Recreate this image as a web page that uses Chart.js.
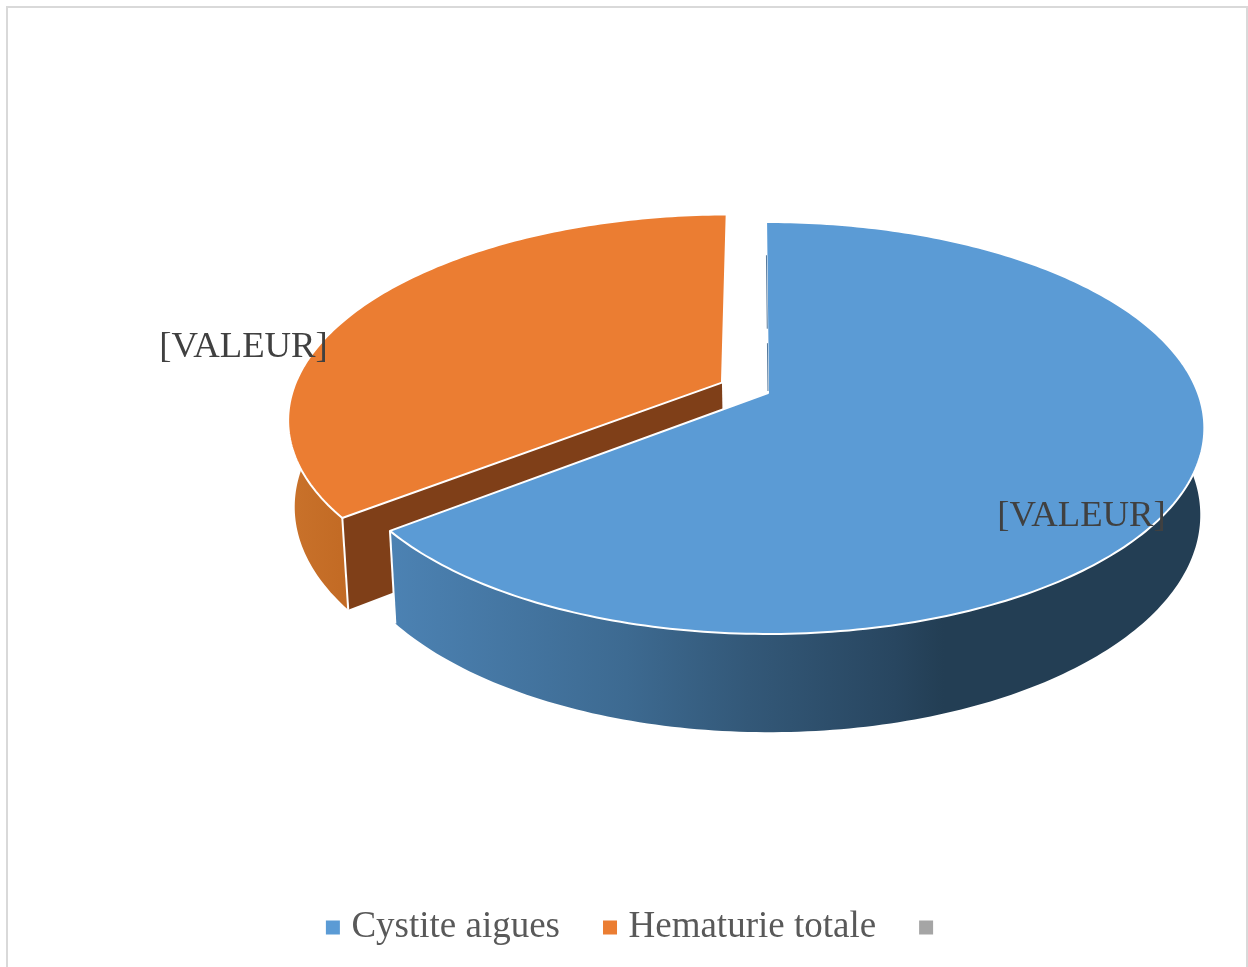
<!DOCTYPE html>
<html>
<head>
<meta charset="utf-8">
<title>Cystite / Hematurie</title>
<script src="https://cdn.jsdelivr.net/npm/chart.js@4/dist/chart.umd.min.js"></script>
<style>
    html, body { margin: 0; background: #fff; overflow: hidden; }
    canvas { display: block; }
</style>
</head>
<body>
<canvas id="chartPie" width="1248" height="967"></canvas>
<script>
// Exploded 3D pie. Chart.js works out the slices, the plugin below only
// projects each arc's angles onto a tilted disc (canvas has no perspective).

const categories = ['Cystite aigues', 'Hematurie totale', ''];
const shares = [64.5, 35.5, 0];
const valueLabels = ['[VALEUR]', '[VALEUR]', ''];

const FONT = "'Liberation Serif', serif";
const TOP_COLORS = ['#5b9bd5', '#eb7d32', '#a5a5a5'];
const CUT_COLOR = '#7f3f18';
const WALL_STOPS = [
    [[0, '#4c82b3'], [0.29, '#3d6a91'], [0.44, '#335878'], [0.62, '#284660'], [0.68, '#233e54'], [1, '#233e54']],
    [[0, '#c9722b'], [1, '#c26a24']],
    [[0, '#a5a5a5'], [1, '#a5a5a5']],
];
const LABEL_SPOTS = [[1081.5, 516], [243.5, 347]];

// tilted disc: top face and the (lower, farther) bottom face
const PERSPECTIVE = 0.17;
const TOP_FACE = { x: 768, y: 393, a: 430, b: 200 };
const BOTTOM_FACE = { x: 769, y: 478, a: 425, b: 211 };

function project(face, u, v) {
    const w = 1 - PERSPECTIVE * v;
    return [face.x + face.a * u / w, face.y + face.b * v / w];
}

function rimPoint(face, angle, shift) {
    return project(face, Math.cos(angle) + shift[0], Math.sin(angle) + shift[1]);
}

function tracePoints(ctx, points) {
    points.forEach((p, i) => (i ? ctx.lineTo(p[0], p[1]) : ctx.moveTo(p[0], p[1])));
}

function rimPoints(face, from, to, shift) {
    const steps = Math.max(2, Math.ceil(Math.abs(to - from) * 60));
    const points = [];
    for (let i = 0; i <= steps; i++) {
        points.push(rimPoint(face, from + (to - from) * i / steps, shift));
    }
    return points;
}

function drawSlice(ctx, arc, index) {
    const { startAngle, endAngle } = arc;
    if (endAngle - startAngle < 0.001) return;

    const mid = (startAngle + endAngle) / 2;
    const explode = arc.options.offset / 100;
    const shift = [Math.cos(mid) * explode, Math.sin(mid) * explode];
    const topApex = project(TOP_FACE, shift[0], shift[1]);
    const bottomApex = project(BOTTOM_FACE, shift[0], shift[1]);

    // only the front of the rim shows
    const wallFrom = Math.max(startAngle, -0.1);
    const wallTo = Math.min(endAngle, Math.PI + 0.1);
    const wall = rimPoints(TOP_FACE, wallFrom, wallTo, shift)
        .concat(rimPoints(BOTTOM_FACE, wallTo, wallFrom, shift));
    const xs = wall.map(p => p[0]);
    const gradient = ctx.createLinearGradient(Math.min(...xs), 0, Math.max(...xs), 0);
    WALL_STOPS[index].forEach(s => gradient.addColorStop(s[0], s[1]));
    ctx.beginPath();
    tracePoints(ctx, wall);
    ctx.closePath();
    ctx.fillStyle = gradient;
    ctx.fill();

    // cut face on the front left of the slice
    const faces = startAngle > Math.PI / 2 && startAngle < Math.PI;
    if (faces) {
        ctx.beginPath();
        tracePoints(ctx, [topApex, rimPoint(TOP_FACE, startAngle, shift),
            rimPoint(BOTTOM_FACE, startAngle, shift), bottomApex]);
        ctx.closePath();
        ctx.fillStyle = CUT_COLOR;
        ctx.fill();
    }

    // white seam down the front corner
    const corner = faces ? startAngle : endAngle;
    if (corner > Math.PI / 2 && corner < Math.PI) {
        ctx.beginPath();
        tracePoints(ctx, [rimPoint(TOP_FACE, corner, shift), rimPoint(BOTTOM_FACE, corner, shift)]);
        ctx.strokeStyle = '#fff';
        ctx.lineWidth = 2;
        ctx.stroke();
    }

    // top face
    ctx.beginPath();
    tracePoints(ctx, [topApex].concat(rimPoints(TOP_FACE, startAngle, endAngle, shift)));
    ctx.closePath();
    ctx.fillStyle = arc.options.backgroundColor;
    ctx.fill();
    ctx.strokeStyle = '#fff';
    ctx.lineWidth = 2;
    ctx.lineJoin = 'round';
    ctx.stroke();
}

function drawBlueSliver(ctx, arc) {
    // thin glimpse of the inner wall at twelve o'clock
    ctx.strokeStyle = '#55789a';
    ctx.lineWidth = 1;
    [[0.01, 0.26], [0.34, 0.78]].forEach(part => {
        ctx.beginPath();
        tracePoints(ctx, part.map(t => project(TOP_FACE,
            Math.cos(arc.startAngle) * t, Math.sin(arc.startAngle) * t)));
        ctx.stroke();
    });
}

const pie3dPlugin = {
    id: 'pie3d',
    beforeDraw(chart) {
        const ctx = chart.ctx;
        ctx.save();
        ctx.fillStyle = '#fff';
        ctx.fillRect(0, 0, chart.width, chart.height);
        ctx.strokeStyle = '#d9d9d9';
        ctx.lineWidth = 2;
        ctx.strokeRect(7, 7, 1240, 980);
        ctx.restore();
    },
    beforeDatasetDraw(chart) {
        const ctx = chart.ctx;
        const arcs = chart.getDatasetMeta(0).data;
        ctx.save();
        // back to front: orange sits behind the blue wall
        drawSlice(ctx, arcs[1], 1);
        drawSlice(ctx, arcs[0], 0);
        drawBlueSliver(ctx, arcs[0]);

        ctx.fillStyle = '#404040';
        ctx.font = '36.7px ' + FONT;
        ctx.textAlign = 'center';
        ctx.textBaseline = 'middle';
        LABEL_SPOTS.forEach((spot, i) => ctx.fillText(valueLabels[i], spot[0], spot[1]));
        ctx.restore();
        return false;
    },
};

new Chart(document.getElementById('chartPie'), {
    type: 'pie',
    data: {
        labels: categories,
        datasets: [{
            data: shares,
            backgroundColor: TOP_COLORS,
            borderWidth: 0,
            offset: [0, 12, 0],
            rotation: -0.3,
        }],
    },
    options: {
        responsive: false,
        animation: false,
        layout: { padding: { left: 29.5, bottom: 11 } },
        plugins: {
            tooltip: { enabled: false },
            legend: {
                position: 'bottom',
                labels: {
                    usePointStyle: true,
                    pointStyle: 'rect',
                    boxWidth: 0.01,
                    boxHeight: 14,
                    padding: 50,
                    color: '#595959',
                    font: { family: FONT, size: 37 },
                },
            },
        },
    },
    plugins: [pie3dPlugin],
});
</script>
</body>
</html>
